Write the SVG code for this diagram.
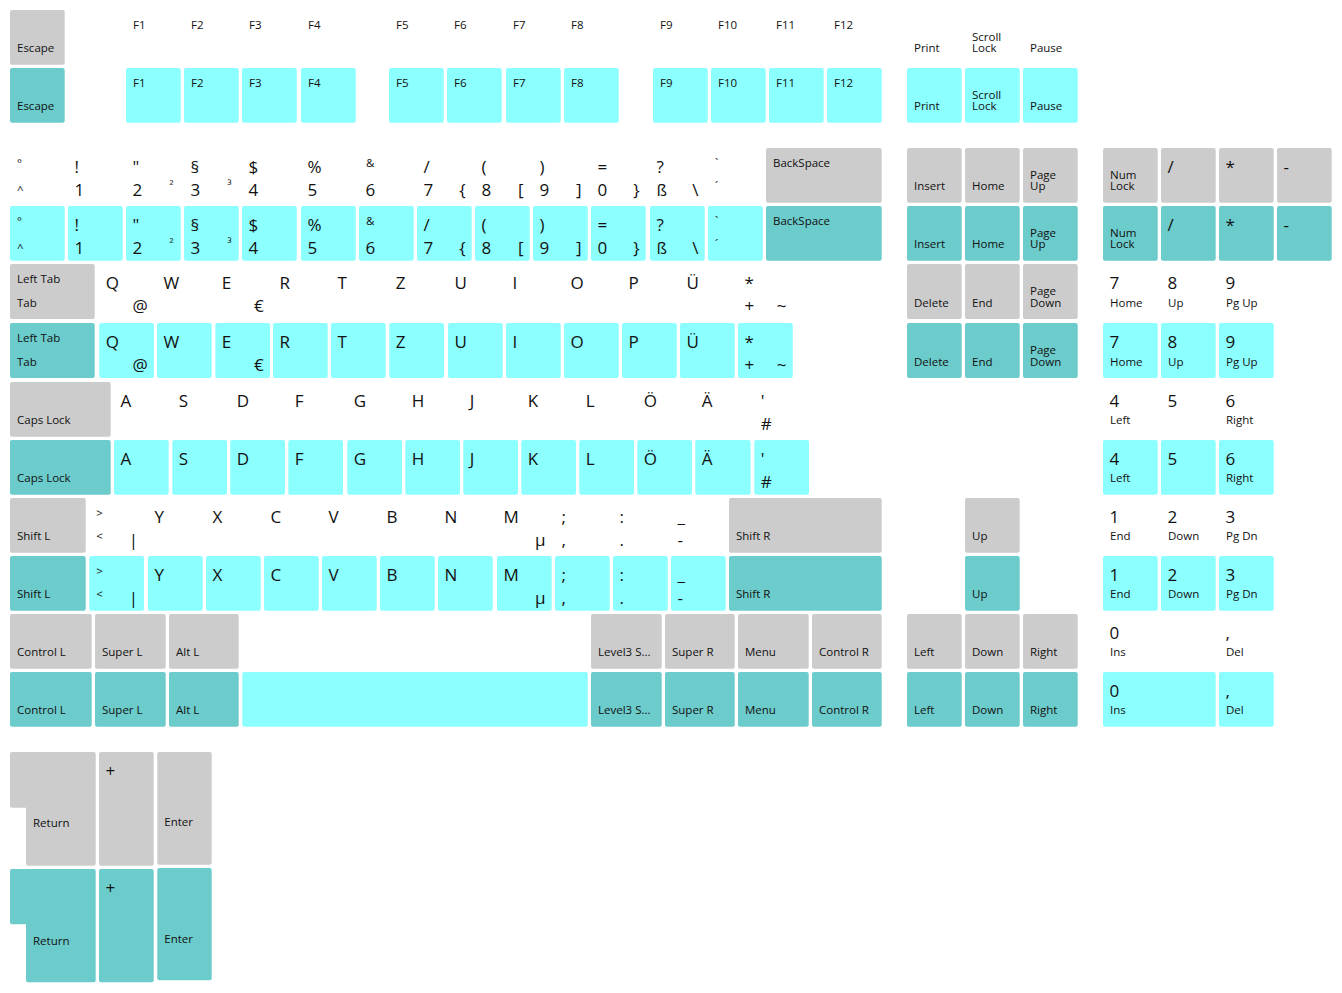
<svg xmlns="http://www.w3.org/2000/svg" width="1342" height="993" viewBox="0 0 1342 993">
<style>
rect{rx:2px;ry:2px}
.g{fill:#cccccc}.t{fill:#6ccbcb}.c{fill:#8cffff}
text{font-family:"Open Sans","Noto Sans","DejaVu Sans",sans-serif;fill:#111}
.s{font-size:11.5px}.b{font-size:17px}.e{text-anchor:end}
</style>
<rect x="0" y="0" width="1342" height="993" fill="#ffffff" style="rx:0"/>
<g id="connectors"/>
<!-- Function row, plain -->
<g id="f-esc"><rect class="g" x="10" y="10" width="54.7" height="54.7"/><text class="s" x="17" y="52.3">Escape</text></g>
<g id="f-f1"><text class="s" x="133" y="29">F1</text></g>
<g id="f-f2"><text class="s" x="191" y="29">F2</text></g>
<g id="f-f3"><text class="s" x="249" y="29">F3</text></g>
<g id="f-f4"><text class="s" x="308" y="29">F4</text></g>
<g id="f-f5"><text class="s" x="396" y="29">F5</text></g>
<g id="f-f6"><text class="s" x="454" y="29">F6</text></g>
<g id="f-f7"><text class="s" x="513" y="29">F7</text></g>
<g id="f-f8"><text class="s" x="571" y="29">F8</text></g>
<g id="f-f9"><text class="s" x="660" y="29">F9</text></g>
<g id="f-f10"><text class="s" x="718" y="29">F10</text></g>
<g id="f-f11"><text class="s" x="776" y="29">F11</text></g>
<g id="f-f12"><text class="s" x="834" y="29">F12</text></g>
<g id="f-print"><text class="s" x="914" y="52.3">Print</text></g>
<g id="f-scroll"><text class="s" x="972" y="40.5">Scroll<tspan x="972" dy="11.8">Lock</tspan></text></g>
<g id="f-pause"><text class="s" x="1030" y="52.3">Pause</text></g>
<!-- Function row, coloured -->
<g id="f-esc-c"><rect class="t" x="10" y="68" width="54.7" height="54.7"/><text class="s" x="17" y="110.3">Escape</text></g>
<g id="f-f1-c"><rect class="c" x="126" y="68" width="54.7" height="54.7"/><text class="s" x="133" y="87">F1</text></g>
<g id="f-f2-c"><rect class="c" x="184" y="68" width="54.7" height="54.7"/><text class="s" x="191" y="87">F2</text></g>
<g id="f-f3-c"><rect class="c" x="242" y="68" width="54.7" height="54.7"/><text class="s" x="249" y="87">F3</text></g>
<g id="f-f4-c"><rect class="c" x="301" y="68" width="54.7" height="54.7"/><text class="s" x="308" y="87">F4</text></g>
<g id="f-f5-c"><rect class="c" x="389" y="68" width="54.7" height="54.7"/><text class="s" x="396" y="87">F5</text></g>
<g id="f-f6-c"><rect class="c" x="447" y="68" width="54.7" height="54.7"/><text class="s" x="454" y="87">F6</text></g>
<g id="f-f7-c"><rect class="c" x="506" y="68" width="54.7" height="54.7"/><text class="s" x="513" y="87">F7</text></g>
<g id="f-f8-c"><rect class="c" x="564" y="68" width="54.7" height="54.7"/><text class="s" x="571" y="87">F8</text></g>
<g id="f-f9-c"><rect class="c" x="653" y="68" width="54.7" height="54.7"/><text class="s" x="660" y="87">F9</text></g>
<g id="f-f10-c"><rect class="c" x="711" y="68" width="54.7" height="54.7"/><text class="s" x="718" y="87">F10</text></g>
<g id="f-f11-c"><rect class="c" x="769" y="68" width="54.7" height="54.7"/><text class="s" x="776" y="87">F11</text></g>
<g id="f-f12-c"><rect class="c" x="827" y="68" width="54.7" height="54.7"/><text class="s" x="834" y="87">F12</text></g>
<g id="f-print-c"><rect class="c" x="907" y="68" width="54.7" height="54.7"/><text class="s" x="914" y="110.3">Print</text></g>
<g id="f-scroll-c"><rect class="c" x="965" y="68" width="54.7" height="54.7"/><text class="s" x="972" y="98.5">Scroll<tspan x="972" dy="11.8">Lock</tspan></text></g>
<g id="f-pause-c"><rect class="c" x="1023" y="68" width="54.7" height="54.7"/><text class="s" x="1030" y="110.3">Pause</text></g>
<!-- Number row, plain -->
<g id="n-circ"><text class="s" x="17" y="167">°</text><text class="s" x="17" y="194">^</text></g>
<g id="n-1"><text class="b" x="74.5" y="173">!</text><text class="b" x="74.5" y="196">1</text></g>
<g id="n-2"><text class="b" x="132.5" y="173">"</text><text class="b" x="132.5" y="196">2</text><text class="s e" x="173.5" y="190.3">²</text></g>
<g id="n-3"><text class="b" x="190.5" y="173">§</text><text class="b" x="190.5" y="196">3</text><text class="s e" x="231.5" y="190.3">³</text></g>
<g id="n-4"><text class="b" x="248.5" y="173">$</text><text class="b" x="248.5" y="196">4</text></g>
<g id="n-5"><text class="b" x="307.5" y="173">%</text><text class="b" x="307.5" y="196">5</text></g>
<g id="n-6"><text class="s" x="366" y="167">&amp;</text><text class="b" x="365.5" y="196">6</text></g>
<g id="n-7"><text class="b" x="423.5" y="173">/</text><text class="b" x="423.5" y="196">7</text><text class="b e" x="465.5" y="196">{</text></g>
<g id="n-8"><text class="b" x="481.5" y="173">(</text><text class="b" x="481.5" y="196">8</text><text class="b e" x="523.5" y="196">[</text></g>
<g id="n-9"><text class="b" x="539.5" y="173">)</text><text class="b" x="539.5" y="196">9</text><text class="b e" x="581.5" y="196">]</text></g>
<g id="n-0"><text class="b" x="597.5" y="173">=</text><text class="b" x="597.5" y="196">0</text><text class="b e" x="639.5" y="196">}</text></g>
<g id="n-ss"><text class="b" x="656.5" y="173">?</text><text class="b" x="656.5" y="196">ß</text><text class="b e" x="698.5" y="196">\</text></g>
<g id="n-acute"><text class="s" x="715" y="167">`</text><text class="s" x="715" y="190.3">´</text></g>
<g id="n-bksp"><rect class="g" x="766" y="148" width="115.7" height="54.7"/><text class="s" x="773" y="167">BackSpace</text></g>
<g id="n-ins"><rect class="g" x="907" y="148" width="54.7" height="54.7"/><text class="s" x="914" y="190.3">Insert</text></g>
<g id="n-home"><rect class="g" x="965" y="148" width="54.7" height="54.7"/><text class="s" x="972" y="190.3">Home</text></g>
<g id="n-pgup"><rect class="g" x="1023" y="148" width="54.7" height="54.7"/><text class="s" x="1030" y="178.5">Page<tspan x="1030" dy="11.8">Up</tspan></text></g>
<g id="n-numlock"><rect class="g" x="1103" y="148" width="54.7" height="54.7"/><text class="s" x="1110" y="178.5">Num<tspan x="1110" dy="11.8">Lock</tspan></text></g>
<g id="n-kpdiv"><rect class="g" x="1161" y="148" width="54.7" height="54.7"/><text class="b" x="1167.5" y="173">/</text></g>
<g id="n-kpmul"><rect class="g" x="1219" y="148" width="54.7" height="54.7"/><text class="b" x="1225.5" y="173">*</text></g>
<g id="n-kpsub"><rect class="g" x="1277" y="148" width="54.7" height="54.7"/><text class="b" x="1283.5" y="173">-</text></g>
<!-- Number row, coloured -->
<g id="n-circ-c"><rect class="c" x="10" y="206" width="54.7" height="54.7"/><text class="s" x="17" y="225">°</text><text class="s" x="17" y="252">^</text></g>
<g id="n-1-c"><rect class="c" x="68" y="206" width="54.7" height="54.7"/><text class="b" x="74.5" y="231">!</text><text class="b" x="74.5" y="254">1</text></g>
<g id="n-2-c"><rect class="c" x="126" y="206" width="54.7" height="54.7"/><text class="b" x="132.5" y="231">"</text><text class="b" x="132.5" y="254">2</text><text class="s e" x="173.5" y="248.3">²</text></g>
<g id="n-3-c"><rect class="c" x="184" y="206" width="54.7" height="54.7"/><text class="b" x="190.5" y="231">§</text><text class="b" x="190.5" y="254">3</text><text class="s e" x="231.5" y="248.3">³</text></g>
<g id="n-4-c"><rect class="c" x="242" y="206" width="54.7" height="54.7"/><text class="b" x="248.5" y="231">$</text><text class="b" x="248.5" y="254">4</text></g>
<g id="n-5-c"><rect class="c" x="301" y="206" width="54.7" height="54.7"/><text class="b" x="307.5" y="231">%</text><text class="b" x="307.5" y="254">5</text></g>
<g id="n-6-c"><rect class="c" x="359" y="206" width="54.7" height="54.7"/><text class="s" x="366" y="225">&amp;</text><text class="b" x="365.5" y="254">6</text></g>
<g id="n-7-c"><rect class="c" x="417" y="206" width="54.7" height="54.7"/><text class="b" x="423.5" y="231">/</text><text class="b" x="423.5" y="254">7</text><text class="b e" x="465.5" y="254">{</text></g>
<g id="n-8-c"><rect class="c" x="475" y="206" width="54.7" height="54.7"/><text class="b" x="481.5" y="231">(</text><text class="b" x="481.5" y="254">8</text><text class="b e" x="523.5" y="254">[</text></g>
<g id="n-9-c"><rect class="c" x="533" y="206" width="54.7" height="54.7"/><text class="b" x="539.5" y="231">)</text><text class="b" x="539.5" y="254">9</text><text class="b e" x="581.5" y="254">]</text></g>
<g id="n-0-c"><rect class="c" x="591" y="206" width="54.7" height="54.7"/><text class="b" x="597.5" y="231">=</text><text class="b" x="597.5" y="254">0</text><text class="b e" x="639.5" y="254">}</text></g>
<g id="n-ss-c"><rect class="c" x="650" y="206" width="54.7" height="54.7"/><text class="b" x="656.5" y="231">?</text><text class="b" x="656.5" y="254">ß</text><text class="b e" x="698.5" y="254">\</text></g>
<g id="n-acute-c"><rect class="c" x="708" y="206" width="54.7" height="54.7"/><text class="s" x="715" y="225">`</text><text class="s" x="715" y="248.3">´</text></g>
<g id="n-bksp-c"><rect class="t" x="766" y="206" width="115.7" height="54.7"/><text class="s" x="773" y="225">BackSpace</text></g>
<g id="n-ins-c"><rect class="t" x="907" y="206" width="54.7" height="54.7"/><text class="s" x="914" y="248.3">Insert</text></g>
<g id="n-home-c"><rect class="t" x="965" y="206" width="54.7" height="54.7"/><text class="s" x="972" y="248.3">Home</text></g>
<g id="n-pgup-c"><rect class="t" x="1023" y="206" width="54.7" height="54.7"/><text class="s" x="1030" y="236.5">Page<tspan x="1030" dy="11.8">Up</tspan></text></g>
<g id="n-numlock-c"><rect class="t" x="1103" y="206" width="54.7" height="54.7"/><text class="s" x="1110" y="236.5">Num<tspan x="1110" dy="11.8">Lock</tspan></text></g>
<g id="n-kpdiv-c"><rect class="t" x="1161" y="206" width="54.7" height="54.7"/><text class="b" x="1167.5" y="231">/</text></g>
<g id="n-kpmul-c"><rect class="t" x="1219" y="206" width="54.7" height="54.7"/><text class="b" x="1225.5" y="231">*</text></g>
<g id="n-kpsub-c"><rect class="t" x="1277" y="206" width="54.7" height="54.7"/><text class="b" x="1283.5" y="231">-</text></g>
<!-- Q row, plain -->
<g id="q-tab"><rect class="g" x="10" y="264" width="84.7" height="55"/><text class="s" x="17" y="283">Left Tab</text><text class="s" x="17" y="306.8">Tab</text></g>
<g id="q-q"><text class="b" x="105.8" y="289">Q</text><text class="b e" x="147.8" y="312">@</text></g>
<g id="q-w"><text class="b" x="163.5" y="289">W</text></g>
<g id="q-e"><text class="b" x="221.8" y="289">E</text><text class="b e" x="263.8" y="312">€</text></g>
<g id="q-r"><text class="b" x="279.5" y="289">R</text></g>
<g id="q-t"><text class="b" x="337.5" y="289">T</text></g>
<g id="q-z"><text class="b" x="395.8" y="289">Z</text></g>
<g id="q-u"><text class="b" x="454.5" y="289">U</text></g>
<g id="q-i"><text class="b" x="512.5" y="289">I</text></g>
<g id="q-o"><text class="b" x="570.5" y="289">O</text></g>
<g id="q-p"><text class="b" x="628.5" y="289">P</text></g>
<g id="q-ue"><text class="b" x="686.5" y="289">Ü</text></g>
<g id="q-plus"><text class="b" x="744.5" y="289">*</text><text class="b" x="744.5" y="312">+</text><text class="b e" x="786.5" y="312">~</text></g>
<g id="q-del"><rect class="g" x="907" y="264" width="54.7" height="55"/><text class="s" x="914" y="306.8">Delete</text></g>
<g id="q-end"><rect class="g" x="965" y="264" width="54.7" height="55"/><text class="s" x="972" y="306.8">End</text></g>
<g id="q-pgdn"><rect class="g" x="1023" y="264" width="54.7" height="55"/><text class="s" x="1030" y="295">Page<tspan x="1030" dy="11.8">Down</tspan></text></g>
<g id="q-kp7"><text class="b" x="1109.5" y="289">7</text><text class="s" x="1110" y="306.8">Home</text></g>
<g id="q-kp8"><text class="b" x="1167.5" y="289">8</text><text class="s" x="1168" y="306.8">Up</text></g>
<g id="q-kp9"><text class="b" x="1225.5" y="289">9</text><text class="s" x="1226" y="306.8">Pg Up</text></g>
<!-- Q row, coloured -->
<g id="q-tab-c"><rect class="t" x="10" y="323" width="84.7" height="55"/><text class="s" x="17" y="342">Left Tab</text><text class="s" x="17" y="365.8">Tab</text></g>
<g id="q-q-c"><rect class="c" x="99.3" y="323" width="54.7" height="55"/><text class="b" x="105.8" y="348">Q</text><text class="b e" x="147.8" y="371">@</text></g>
<g id="q-w-c"><rect class="c" x="157" y="323" width="54.7" height="55"/><text class="b" x="163.5" y="348">W</text></g>
<g id="q-e-c"><rect class="c" x="215.3" y="323" width="54.7" height="55"/><text class="b" x="221.8" y="348">E</text><text class="b e" x="263.8" y="371">€</text></g>
<g id="q-r-c"><rect class="c" x="273" y="323" width="54.7" height="55"/><text class="b" x="279.5" y="348">R</text></g>
<g id="q-t-c"><rect class="c" x="331" y="323" width="54.7" height="55"/><text class="b" x="337.5" y="348">T</text></g>
<g id="q-z-c"><rect class="c" x="389.3" y="323" width="54.7" height="55"/><text class="b" x="395.8" y="348">Z</text></g>
<g id="q-u-c"><rect class="c" x="448" y="323" width="54.7" height="55"/><text class="b" x="454.5" y="348">U</text></g>
<g id="q-i-c"><rect class="c" x="506" y="323" width="54.7" height="55"/><text class="b" x="512.5" y="348">I</text></g>
<g id="q-o-c"><rect class="c" x="564" y="323" width="54.7" height="55"/><text class="b" x="570.5" y="348">O</text></g>
<g id="q-p-c"><rect class="c" x="622" y="323" width="54.7" height="55"/><text class="b" x="628.5" y="348">P</text></g>
<g id="q-ue-c"><rect class="c" x="680" y="323" width="54.7" height="55"/><text class="b" x="686.5" y="348">Ü</text></g>
<g id="q-plus-c"><rect class="c" x="738" y="323" width="54.7" height="55"/><text class="b" x="744.5" y="348">*</text><text class="b" x="744.5" y="371">+</text><text class="b e" x="786.5" y="371">~</text></g>
<g id="q-del-c"><rect class="t" x="907" y="323" width="54.7" height="55"/><text class="s" x="914" y="365.8">Delete</text></g>
<g id="q-end-c"><rect class="t" x="965" y="323" width="54.7" height="55"/><text class="s" x="972" y="365.8">End</text></g>
<g id="q-pgdn-c"><rect class="t" x="1023" y="323" width="54.7" height="55"/><text class="s" x="1030" y="354">Page<tspan x="1030" dy="11.8">Down</tspan></text></g>
<g id="q-kp7-c"><rect class="c" x="1103" y="323" width="54.7" height="55"/><text class="b" x="1109.5" y="348">7</text><text class="s" x="1110" y="365.8">Home</text></g>
<g id="q-kp8-c"><rect class="c" x="1161" y="323" width="54.7" height="55"/><text class="b" x="1167.5" y="348">8</text><text class="s" x="1168" y="365.8">Up</text></g>
<g id="q-kp9-c"><rect class="c" x="1219" y="323" width="54.7" height="55"/><text class="b" x="1225.5" y="348">9</text><text class="s" x="1226" y="365.8">Pg Up</text></g>
<!-- A row, plain -->
<g id="a-caps"><rect class="g" x="10" y="382" width="100.7" height="54.7"/><text class="s" x="17" y="424.3">Caps Lock</text></g>
<g id="a-a"><text class="b" x="120.5" y="407">A</text></g>
<g id="a-s"><text class="b" x="178.8" y="407">S</text></g>
<g id="a-d"><text class="b" x="236.8" y="407">D</text></g>
<g id="a-f"><text class="b" x="294.8" y="407">F</text></g>
<g id="a-g"><text class="b" x="353.8" y="407">G</text></g>
<g id="a-h"><text class="b" x="411.8" y="407">H</text></g>
<g id="a-j"><text class="b" x="469.8" y="407">J</text></g>
<g id="a-k"><text class="b" x="527.8" y="407">K</text></g>
<g id="a-l"><text class="b" x="585.8" y="407">L</text></g>
<g id="a-oe"><text class="b" x="643.8" y="407">Ö</text></g>
<g id="a-ae"><text class="b" x="701.8" y="407">Ä</text></g>
<g id="a-hash"><text class="b" x="760.8" y="407">'</text><text class="b" x="760.8" y="430">#</text></g>
<g id="a-kp4"><text class="b" x="1109.5" y="407">4</text><text class="s" x="1110" y="424.3">Left</text></g>
<g id="a-kp5"><text class="b" x="1167.5" y="407">5</text></g>
<g id="a-kp6"><text class="b" x="1225.5" y="407">6</text><text class="s" x="1226" y="424.3">Right</text></g>
<!-- A row, coloured -->
<g id="a-caps-c"><rect class="t" x="10" y="440" width="100.7" height="54.7"/><text class="s" x="17" y="482.3">Caps Lock</text></g>
<g id="a-a-c"><rect class="c" x="114" y="440" width="54.7" height="54.7"/><text class="b" x="120.5" y="465">A</text></g>
<g id="a-s-c"><rect class="c" x="172.3" y="440" width="54.7" height="54.7"/><text class="b" x="178.8" y="465">S</text></g>
<g id="a-d-c"><rect class="c" x="230.3" y="440" width="54.7" height="54.7"/><text class="b" x="236.8" y="465">D</text></g>
<g id="a-f-c"><rect class="c" x="288.3" y="440" width="54.7" height="54.7"/><text class="b" x="294.8" y="465">F</text></g>
<g id="a-g-c"><rect class="c" x="347.3" y="440" width="54.7" height="54.7"/><text class="b" x="353.8" y="465">G</text></g>
<g id="a-h-c"><rect class="c" x="405.3" y="440" width="54.7" height="54.7"/><text class="b" x="411.8" y="465">H</text></g>
<g id="a-j-c"><rect class="c" x="463.3" y="440" width="54.7" height="54.7"/><text class="b" x="469.8" y="465">J</text></g>
<g id="a-k-c"><rect class="c" x="521.3" y="440" width="54.7" height="54.7"/><text class="b" x="527.8" y="465">K</text></g>
<g id="a-l-c"><rect class="c" x="579.3" y="440" width="54.7" height="54.7"/><text class="b" x="585.8" y="465">L</text></g>
<g id="a-oe-c"><rect class="c" x="637.3" y="440" width="54.7" height="54.7"/><text class="b" x="643.8" y="465">Ö</text></g>
<g id="a-ae-c"><rect class="c" x="695.3" y="440" width="55.3" height="54.7"/><text class="b" x="701.8" y="465">Ä</text></g>
<g id="a-hash-c"><rect class="c" x="754.3" y="440" width="54.7" height="54.7"/><text class="b" x="760.8" y="465">'</text><text class="b" x="760.8" y="488">#</text></g>
<g id="a-kp4-c"><rect class="c" x="1103" y="440" width="54.7" height="54.7"/><text class="b" x="1109.5" y="465">4</text><text class="s" x="1110" y="482.3">Left</text></g>
<g id="a-kp5-c"><rect class="c" x="1161" y="440" width="54.7" height="54.7"/><text class="b" x="1167.5" y="465">5</text></g>
<g id="a-kp6-c"><rect class="c" x="1219" y="440" width="54.7" height="54.7"/><text class="b" x="1225.5" y="465">6</text><text class="s" x="1226" y="482.3">Right</text></g>
<!-- Shift row, plain -->
<g id="s-shiftl"><rect class="g" x="10" y="498" width="75.7" height="54.7"/><text class="s" x="17" y="540.3">Shift L</text></g>
<g id="s-less"><text class="s" x="96.3" y="517">&gt;</text><text class="s" x="96.3" y="540.3">&lt;</text><text class="b e" x="138" y="546">|</text></g>
<g id="s-y"><text class="b" x="154.5" y="523">Y</text></g>
<g id="s-x"><text class="b" x="212.5" y="523">X</text></g>
<g id="s-c"><text class="b" x="270.5" y="523">C</text></g>
<g id="s-v"><text class="b" x="328.5" y="523">V</text></g>
<g id="s-b"><text class="b" x="386.5" y="523">B</text></g>
<g id="s-n"><text class="b" x="444.5" y="523">N</text></g>
<g id="s-m"><text class="b" x="503.5" y="523">M</text><text class="b e" x="545.5" y="546">µ</text></g>
<g id="s-comma"><text class="b" x="561.5" y="523">;</text><text class="b" x="561.5" y="546">,</text></g>
<g id="s-period"><text class="b" x="619.5" y="523">:</text><text class="b" x="619.5" y="546">.</text></g>
<g id="s-minus"><text class="b" x="677.5" y="523">_</text><text class="b" x="677.5" y="546">-</text></g>
<g id="s-shiftr"><rect class="g" x="729" y="498" width="152.7" height="54.7"/><text class="s" x="736" y="540.3">Shift R</text></g>
<g id="s-up"><rect class="g" x="965" y="498" width="54.7" height="54.7"/><text class="s" x="972" y="540.3">Up</text></g>
<g id="s-kp1"><text class="b" x="1109.5" y="523">1</text><text class="s" x="1110" y="540.3">End</text></g>
<g id="s-kp2"><text class="b" x="1167.5" y="523">2</text><text class="s" x="1168" y="540.3">Down</text></g>
<g id="s-kp3"><text class="b" x="1225.5" y="523">3</text><text class="s" x="1226" y="540.3">Pg Dn</text></g>
<!-- Shift row, coloured -->
<g id="s-shiftl-c"><rect class="t" x="10" y="556" width="75.7" height="54.7"/><text class="s" x="17" y="598.3">Shift L</text></g>
<g id="s-less-c"><rect class="c" x="89.3" y="556" width="54.7" height="54.7"/><text class="s" x="96.3" y="575">&gt;</text><text class="s" x="96.3" y="598.3">&lt;</text><text class="b e" x="138" y="604">|</text></g>
<g id="s-y-c"><rect class="c" x="148" y="556" width="54.7" height="54.7"/><text class="b" x="154.5" y="581">Y</text></g>
<g id="s-x-c"><rect class="c" x="206" y="556" width="54.7" height="54.7"/><text class="b" x="212.5" y="581">X</text></g>
<g id="s-c-c"><rect class="c" x="264" y="556" width="54.7" height="54.7"/><text class="b" x="270.5" y="581">C</text></g>
<g id="s-v-c"><rect class="c" x="322" y="556" width="54.7" height="54.7"/><text class="b" x="328.5" y="581">V</text></g>
<g id="s-b-c"><rect class="c" x="380" y="556" width="54.7" height="54.7"/><text class="b" x="386.5" y="581">B</text></g>
<g id="s-n-c"><rect class="c" x="438" y="556" width="54.7" height="54.7"/><text class="b" x="444.5" y="581">N</text></g>
<g id="s-m-c"><rect class="c" x="497" y="556" width="54.7" height="54.7"/><text class="b" x="503.5" y="581">M</text><text class="b e" x="545.5" y="604">µ</text></g>
<g id="s-comma-c"><rect class="c" x="555" y="556" width="54.7" height="54.7"/><text class="b" x="561.5" y="581">;</text><text class="b" x="561.5" y="604">,</text></g>
<g id="s-period-c"><rect class="c" x="613" y="556" width="54.7" height="54.7"/><text class="b" x="619.5" y="581">:</text><text class="b" x="619.5" y="604">.</text></g>
<g id="s-minus-c"><rect class="c" x="671" y="556" width="54.7" height="54.7"/><text class="b" x="677.5" y="581">_</text><text class="b" x="677.5" y="604">-</text></g>
<g id="s-shiftr-c"><rect class="t" x="729" y="556" width="152.7" height="54.7"/><text class="s" x="736" y="598.3">Shift R</text></g>
<g id="s-up-c"><rect class="t" x="965" y="556" width="54.7" height="54.7"/><text class="s" x="972" y="598.3">Up</text></g>
<g id="s-kp1-c"><rect class="c" x="1103" y="556" width="54.7" height="54.7"/><text class="b" x="1109.5" y="581">1</text><text class="s" x="1110" y="598.3">End</text></g>
<g id="s-kp2-c"><rect class="c" x="1161" y="556" width="54.7" height="54.7"/><text class="b" x="1167.5" y="581">2</text><text class="s" x="1168" y="598.3">Down</text></g>
<g id="s-kp3-c"><rect class="c" x="1219" y="556" width="54.7" height="54.7"/><text class="b" x="1225.5" y="581">3</text><text class="s" x="1226" y="598.3">Pg Dn</text></g>
<!-- Control row, plain -->
<g id="c-ctrll"><rect class="g" x="10" y="614" width="81.7" height="54.7"/><text class="s" x="17" y="656.3">Control L</text></g>
<g id="c-superl"><rect class="g" x="95" y="614" width="70.7" height="54.7"/><text class="s" x="102" y="656.3">Super L</text></g>
<g id="c-altl"><rect class="g" x="169" y="614" width="69.7" height="54.7"/><text class="s" x="176" y="656.3">Alt L</text></g>
<g id="c-level3"><rect class="g" x="591" y="614" width="70.7" height="54.7"/><text class="s" x="598" y="656.3">Level3 S...</text></g>
<g id="c-superr"><rect class="g" x="665" y="614" width="69.7" height="54.7"/><text class="s" x="672" y="656.3">Super R</text></g>
<g id="c-menu"><rect class="g" x="738" y="614" width="70.7" height="54.7"/><text class="s" x="745" y="656.3">Menu</text></g>
<g id="c-ctrlr"><rect class="g" x="812" y="614" width="69.7" height="54.7"/><text class="s" x="819" y="656.3">Control R</text></g>
<g id="c-left"><rect class="g" x="907" y="614" width="54.7" height="54.7"/><text class="s" x="914" y="656.3">Left</text></g>
<g id="c-down"><rect class="g" x="965" y="614" width="54.7" height="54.7"/><text class="s" x="972" y="656.3">Down</text></g>
<g id="c-right"><rect class="g" x="1023" y="614" width="54.7" height="54.7"/><text class="s" x="1030" y="656.3">Right</text></g>
<g id="c-kp0"><text class="b" x="1109.5" y="639">0</text><text class="s" x="1110" y="656.3">Ins</text></g>
<g id="c-kpdec"><text class="b" x="1225.5" y="639">,</text><text class="s" x="1226" y="656.3">Del</text></g>
<!-- Control row, coloured -->
<g id="c-ctrll-c"><rect class="t" x="10" y="672" width="81.7" height="54.7"/><text class="s" x="17" y="714.3">Control L</text></g>
<g id="c-superl-c"><rect class="t" x="95" y="672" width="70.7" height="54.7"/><text class="s" x="102" y="714.3">Super L</text></g>
<g id="c-altl-c"><rect class="t" x="169" y="672" width="69.7" height="54.7"/><text class="s" x="176" y="714.3">Alt L</text></g>
<g id="c-space-c"><rect class="c" x="242.3" y="672" width="345.4" height="54.7"/></g>
<g id="c-level3-c"><rect class="t" x="591" y="672" width="70.7" height="54.7"/><text class="s" x="598" y="714.3">Level3 S...</text></g>
<g id="c-superr-c"><rect class="t" x="665" y="672" width="69.7" height="54.7"/><text class="s" x="672" y="714.3">Super R</text></g>
<g id="c-menu-c"><rect class="t" x="738" y="672" width="70.7" height="54.7"/><text class="s" x="745" y="714.3">Menu</text></g>
<g id="c-ctrlr-c"><rect class="t" x="812" y="672" width="69.7" height="54.7"/><text class="s" x="819" y="714.3">Control R</text></g>
<g id="c-left-c"><rect class="t" x="907" y="672" width="54.7" height="54.7"/><text class="s" x="914" y="714.3">Left</text></g>
<g id="c-down-c"><rect class="t" x="965" y="672" width="54.7" height="54.7"/><text class="s" x="972" y="714.3">Down</text></g>
<g id="c-right-c"><rect class="t" x="1023" y="672" width="54.7" height="54.7"/><text class="s" x="1030" y="714.3">Right</text></g>
<g id="c-kp0-c"><rect class="c" x="1103" y="672" width="112.7" height="54.7"/><text class="b" x="1109.5" y="697">0</text><text class="s" x="1110" y="714.3">Ins</text></g>
<g id="c-kpdec-c"><rect class="c" x="1219" y="672" width="54.7" height="54.7"/><text class="b" x="1225.5" y="697">,</text><text class="s" x="1226" y="714.3">Del</text></g>
<!-- Tall keys, plain -->
<g id="r-return"><path class="g" d="M12,752 H93.7 Q95.7,752 95.7,754 V863.7 Q95.7,865.7 93.7,865.7 H28 Q26,865.7 26,863.7 V807.7 H12 Q10,807.7 10,805.7 V754 Q10,752 12,752 Z"/><text class="s" x="33" y="827.3">Return</text></g>
<g id="r-kpadd"><rect class="g" x="99" y="752" width="54.7" height="113.7"/><text class="b" x="105.5" y="777">+</text></g>
<g id="r-kpenter"><rect class="g" x="157.3" y="752" width="54.4" height="112.7"/><text class="s" x="164.3" y="826">Enter</text></g>
<!-- Tall keys, coloured -->
<g id="r-return-c"><path class="t" d="M12,869 H93.7 Q95.7,869 95.7,871 V980.3 Q95.7,982.3 93.7,982.3 H28 Q26,982.3 26,980.3 V924.3 H12 Q10,924.3 10,922.3 V871 Q10,869 12,869 Z"/><text class="s" x="33" y="944.5">Return</text></g>
<g id="r-kpadd-c"><rect class="t" x="99" y="869" width="54.7" height="113.3"/><text class="b" x="105.5" y="894">+</text></g>
<g id="r-kpenter-c"><rect class="t" x="157.3" y="868" width="54.4" height="112.3"/><text class="s" x="164.3" y="942.5">Enter</text></g>
</svg>
